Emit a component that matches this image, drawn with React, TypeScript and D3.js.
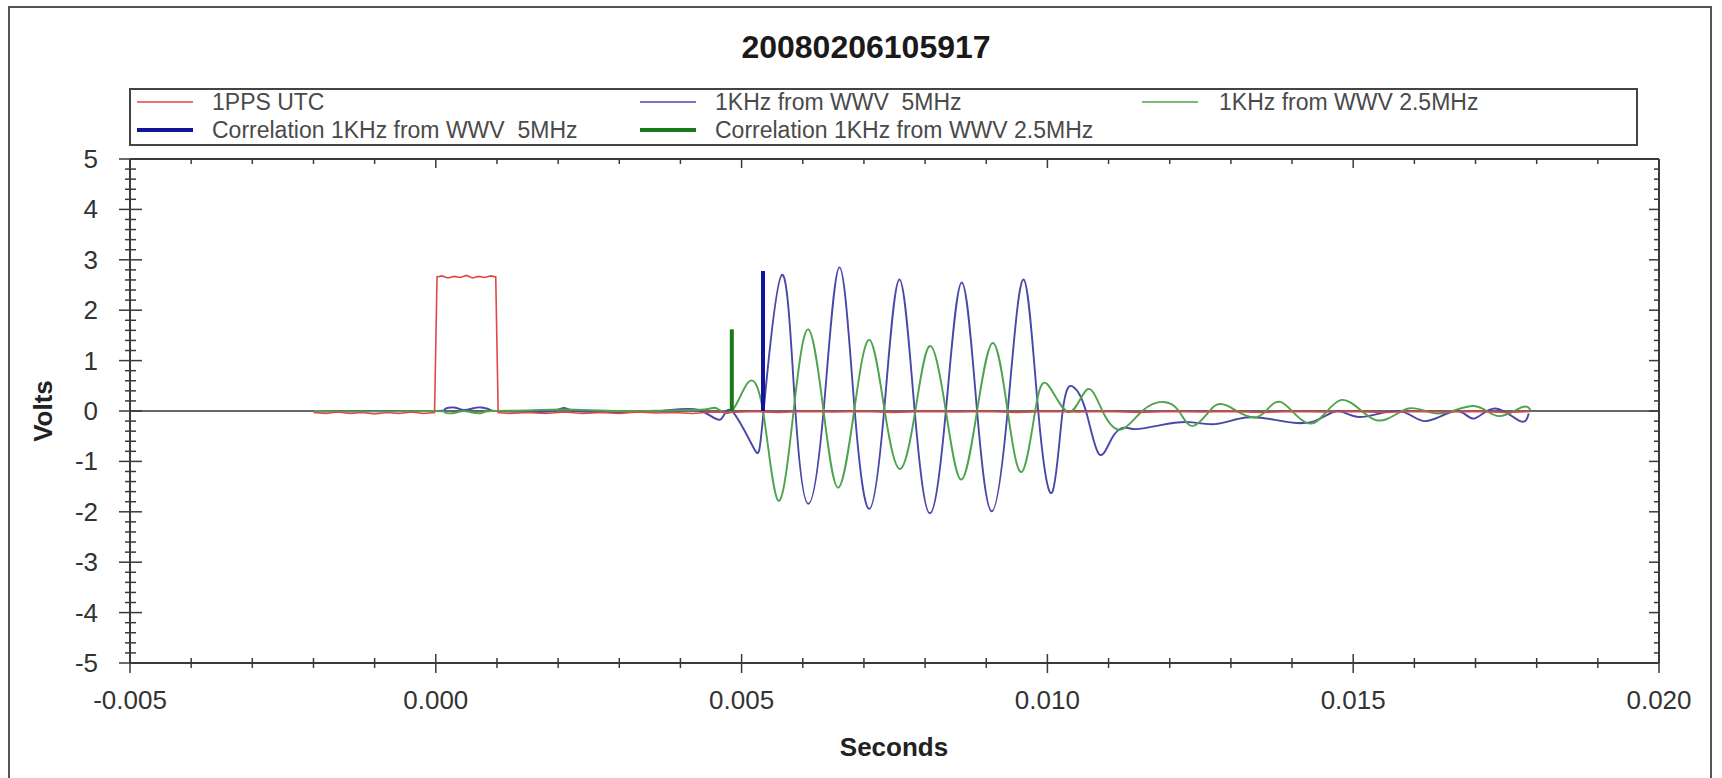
import React from "react";
import * as d3 from "d3";

// ---------- data ----------
const titleText = "20080206105917";
const xTickValues = [-0.005, 0.0, 0.005, 0.01, 0.015, 0.02];
const xTickLabels = ["-0.005", "0.000", "0.005", "0.010", "0.015", "0.020"];
const yTickValues = [-5, -4, -3, -2, -1, 0, 1, 2, 3, 4, 5];
const yTickLabels = ["-5", "-4", "-3", "-2", "-1", "0", "1", "2", "3", "4", "5"];

// 1PPS UTC [seconds, volts]
const ppsUtc: [number, number][] = [
  [-0.002, -0.03], [-0.0018, -0.05], [-0.0016, -0.02], [-0.0014, -0.05], [-0.0012, -0.03],
  [-0.001, -0.06], [-0.0008, -0.03], [-0.0006, -0.05], [-0.0004, -0.02], [-0.0002, -0.05],
  [-0.00002, -0.03], [0.00002, 2.66], [0.0001, 2.68], [0.0002, 2.64], [0.0003, 2.67],
  [0.0004, 2.65], [0.0005, 2.69], [0.0006, 2.64], [0.0007, 2.67], [0.0008, 2.65],
  [0.0009, 2.68], [0.00098, 2.66], [0.00102, -0.03], [0.0012, -0.05], [0.0015, -0.03],
  [0.0018, -0.05], [0.0021, -0.02], [0.0024, -0.05], [0.0027, -0.03], [0.003, -0.05],
  [0.0033, -0.02], [0.0036, -0.04], [0.0039, -0.03], [0.0042, -0.05], [0.0045, -0.02],
  [0.0048, -0.03], [0.0052, -0.01], [0.0056, -0.03], [0.006, -0.01], [0.0065, -0.02],
  [0.007, -0.01], [0.0075, -0.03], [0.008, -0.01], [0.0085, -0.02], [0.009, -0.01],
  [0.0095, -0.03], [0.01, -0.01], [0.0105, -0.02], [0.011, -0.01], [0.0115, -0.03],
  [0.012, -0.01], [0.0125, -0.02], [0.013, -0.01], [0.0135, -0.03], [0.014, -0.01],
  [0.0145, -0.02], [0.015, -0.01], [0.0155, -0.03], [0.016, -0.01], [0.0165, -0.02],
  [0.017, -0.01], [0.0175, -0.03], [0.0179, -0.01],
];

// 1KHz from WWV 5MHz
const wwv5: [number, number][] = [
  [-0.002, -0.01], [-0.001, 0.0], [0.0, 0.0], [0.00015, 0.04], [0.0003, 0.07], [0.00045, 0.02],
  [0.0006, 0.05], [0.00075, 0.07], [0.0009, 0.02], [0.001, 0.0], [0.0015, -0.02], [0.0019, 0.0],
  [0.0021, 0.06], [0.0023, 0.0], [0.003, -0.02], [0.0037, 0.0], [0.0043, 0.02], [0.00465, -0.17],
  [0.00484, 0.0], [0.0052, -0.74], [0.00536, 0.0], [0.00566, 2.7], [0.00588, 0.0], [0.00609, -1.84],
  [0.00634, 0.0], [0.0066, 2.85], [0.00685, 0.0], [0.00709, -1.94], [0.00733, 0.0], [0.00758, 2.61],
  [0.00783, 0.0], [0.00808, -2.03], [0.00834, 0.0], [0.0086, 2.55], [0.00885, 0.0], [0.00909, -1.99],
  [0.00935, 0.0], [0.00961, 2.61], [0.00985, 0.0], [0.01008, -1.61], [0.01025, 0.0], [0.01042, 0.48],
  [0.01063, 0.0], [0.01084, -0.85], [0.01105, -0.55], [0.01125, -0.33], [0.01145, -0.36],
  [0.01185, -0.28], [0.01231, -0.22], [0.01274, -0.26], [0.01324, -0.13], [0.01374, -0.18],
  [0.01431, -0.22], [0.01474, 0.0], [0.01511, -0.12], [0.01575, 0.0], [0.01618, -0.2],
  [0.01668, 0.0], [0.01697, -0.15], [0.01732, 0.05], [0.01773, -0.2], [0.01787, -0.05],
];

// 1KHz from WWV 2.5MHz
const wwv25: [number, number][] = [
  [-0.002, 0.0], [-0.001, -0.01], [0.0, 0.0], [0.00015, -0.03], [0.0003, -0.04], [0.00045, 0.0],
  [0.0006, -0.03], [0.00075, -0.04], [0.0009, 0.0], [0.0015, 0.01], [0.0021, 0.03], [0.003, 0.0],
  [0.0038, 0.01], [0.0044, 0.03], [0.0046, 0.05], [0.00484, 0.0], [0.0051, 0.56], [0.00535, 0.0],
  [0.0056, -1.78], [0.00585, 0.0], [0.00609, 1.62], [0.00634, 0.0], [0.00658, -1.52], [0.00684, 0.0],
  [0.00709, 1.41], [0.00734, 0.0], [0.00759, -1.15], [0.00784, 0.0], [0.00808, 1.29], [0.00834, 0.0],
  [0.00859, -1.36], [0.00885, 0.0], [0.00911, 1.35], [0.00935, 0.0], [0.00958, -1.21], [0.0098, 0.0],
  [0.01, 0.53], [0.01035, -0.02], [0.01065, 0.43], [0.0109, 0.0], [0.0112, -0.37], [0.01155, 0.0],
  [0.0119, 0.18], [0.01215, 0.0], [0.01237, -0.3], [0.01265, 0.0], [0.01293, 0.11], [0.01343, -0.12],
  [0.01381, 0.18], [0.01431, -0.25], [0.01481, 0.22], [0.01537, -0.18], [0.0159, 0.05],
  [0.0164, -0.05], [0.01697, 0.1], [0.01737, -0.1], [0.01775, 0.07], [0.0179, 0.02],
];

// correlation markers [seconds, volts]
const corr5: [number, number] = [0.00535, 2.78];
const corr25: [number, number] = [0.00484, 1.62];

const legendLabels = [
  "1PPS UTC",
  "1KHz from WWV  5MHz",
  "1KHz from WWV 2.5MHz",
  "Correlation 1KHz from WWV  5MHz",
  "Correlation 1KHz from WWV 2.5MHz",
];

// ---------- styling ----------
const C_RED = "#e04848";
const C_BLUE = "#4848a8";
const C_GREEN = "#4ea44e";
const C_CBLUE = "#14149a";
const C_CGREEN = "#1a7a1a";
const AXIS = "#3a3a3a";
const FONT = "'Liberation Sans', Arial, Helvetica, sans-serif";

export default function App() {
  const W = 1722, H = 778;
  const L = 130, R = 1659, T = 159, B = 663;
  const x = d3.scaleLinear().domain([-0.005, 0.02]).range([L, R]);
  const y = d3.scaleLinear().domain([-5, 5]).range([B, T]);

  const lineSmooth = d3.line<[number, number]>().x(d => x(d[0])).y(d => y(d[1])).curve(d3.curveNatural);
  const lineLin = d3.line<[number, number]>().x(d => x(d[0])).y(d => y(d[1]));

  const xMinor = d3.range(-0.005, 0.02 + 1e-9, 0.001).filter(v => Math.abs(Math.round(v / 0.005) * 0.005 - v) > 1e-7);
  const yMinor = d3.range(-5, 5 + 1e-9, 0.2).filter(v => Math.abs(Math.round(v) - v) > 1e-6);

  const legendItems = [
    { label: legendLabels[0], color: C_RED, w: 1.5, lx: 137, tx: 212, cy: 102 },
    { label: legendLabels[1], color: C_BLUE, w: 1.5, lx: 640, tx: 715, cy: 102 },
    { label: legendLabels[2], color: C_GREEN, w: 1.5, lx: 1142, tx: 1219, cy: 102 },
    { label: legendLabels[3], color: C_CBLUE, w: 4, lx: 137, tx: 212, cy: 130 },
    { label: legendLabels[4], color: C_CGREEN, w: 4, lx: 640, tx: 715, cy: 130 },
  ];

  return (
    <svg width={W} height={H} style={{ position: "absolute", left: 0, top: 0, background: "#fff" }} fontFamily={FONT}>
      <rect x={0} y={0} width={W} height={H} fill="#fff" />
      {/* outer frame */}
      <rect x={9} y={7} width={1702} height={820} fill="none" stroke="#555" strokeWidth={2} />

      {/* title */}
      <text x={866} y={58} textAnchor="middle" fontSize={32} fontWeight="bold" fill="#1a1a1a">{titleText}</text>

      {/* legend */}
      <rect x={130} y={89} width={1507} height={56} fill="#fff" stroke="#444" strokeWidth={2} />
      {legendItems.map((it, i) => (
        <g key={i}>
          <line x1={it.lx} x2={it.lx + 56} y1={it.cy} y2={it.cy} stroke={it.color} strokeWidth={it.w} />
          <text x={it.tx} y={it.cy + 8} fontSize={23} fill="#4a4a4a" style={{ whiteSpace: "pre" }}>{it.label}</text>
        </g>
      ))}

      {/* zero line */}
      <line x1={L} x2={R} y1={y(0)} y2={y(0)} stroke="#333" strokeWidth={1.5} />

      {/* series */}
      <path d={lineSmooth(wwv5) || ""} fill="none" stroke={C_BLUE} strokeWidth={1.9} />
      <path d={lineSmooth(wwv25) || ""} fill="none" stroke={C_GREEN} strokeWidth={1.9} />
      <path d={lineLin(ppsUtc) || ""} fill="none" stroke={C_RED} strokeWidth={1.6} />
      <line x1={x(corr25[0])} x2={x(corr25[0])} y1={y(0)} y2={y(corr25[1])} stroke={C_CGREEN} strokeWidth={4} />
      <line x1={x(corr5[0])} x2={x(corr5[0])} y1={y(0)} y2={y(corr5[1])} stroke={C_CBLUE} strokeWidth={4} />

      {/* plot frame */}
      <line x1={L} x2={R} y1={T} y2={T} stroke={AXIS} strokeWidth={2} />
      <line x1={L} x2={R} y1={B} y2={B} stroke={AXIS} strokeWidth={2} />
      <line x1={L} x2={L} y1={T} y2={B} stroke={AXIS} strokeWidth={2} />
      <line x1={R} x2={R} y1={T} y2={B} stroke={AXIS} strokeWidth={2} />

      {/* bottom / top axis ticks */}
      {xTickValues.map((v, i) => (
        <g key={"xb" + i}>
          <line x1={x(v)} x2={x(v)} y1={B - 9} y2={B + 10} stroke={AXIS} strokeWidth={1.5} />
          <line x1={x(v)} x2={x(v)} y1={T} y2={T + 9} stroke={AXIS} strokeWidth={1.5} />
          <text x={x(v)} y={709} textAnchor="middle" fontSize={26} fill="#333">{xTickLabels[i]}</text>
        </g>
      ))}
      {xMinor.map((v, i) => (
        <g key={"xm" + i}>
          <line x1={x(v)} x2={x(v)} y1={B - 5} y2={B + 5} stroke={AXIS} strokeWidth={1.5} />
          <line x1={x(v)} x2={x(v)} y1={T} y2={T + 5} stroke={AXIS} strokeWidth={1.5} />
        </g>
      ))}

      {/* left / right axis ticks */}
      {yTickValues.map((v, i) => (
        <g key={"yt" + i}>
          <line x1={L - 11} x2={L + 12} y1={y(v)} y2={y(v)} stroke={AXIS} strokeWidth={1.5} />
          <line x1={R - 10} x2={R} y1={y(v)} y2={y(v)} stroke={AXIS} strokeWidth={1.5} />
          <text x={98} y={y(v) + 9} textAnchor="end" fontSize={26} fill="#333">{yTickLabels[i]}</text>
        </g>
      ))}
      {yMinor.map((v, i) => (
        <g key={"ym" + i}>
          <line x1={L - 5} x2={L + 6} y1={y(v)} y2={y(v)} stroke={AXIS} strokeWidth={1.5} />
          <line x1={R - 5} x2={R} y1={y(v)} y2={y(v)} stroke={AXIS} strokeWidth={1.5} />
        </g>
      ))}

      {/* axis titles */}
      <text x={894} y={756} textAnchor="middle" fontSize={26} fontWeight="bold" fill="#222">Seconds</text>
      <text transform={`translate(52, ${(T + B) / 2}) rotate(-90)`} textAnchor="middle" fontSize={26} fontWeight="bold" fill="#222">Volts</text>
    </svg>
  );
}
